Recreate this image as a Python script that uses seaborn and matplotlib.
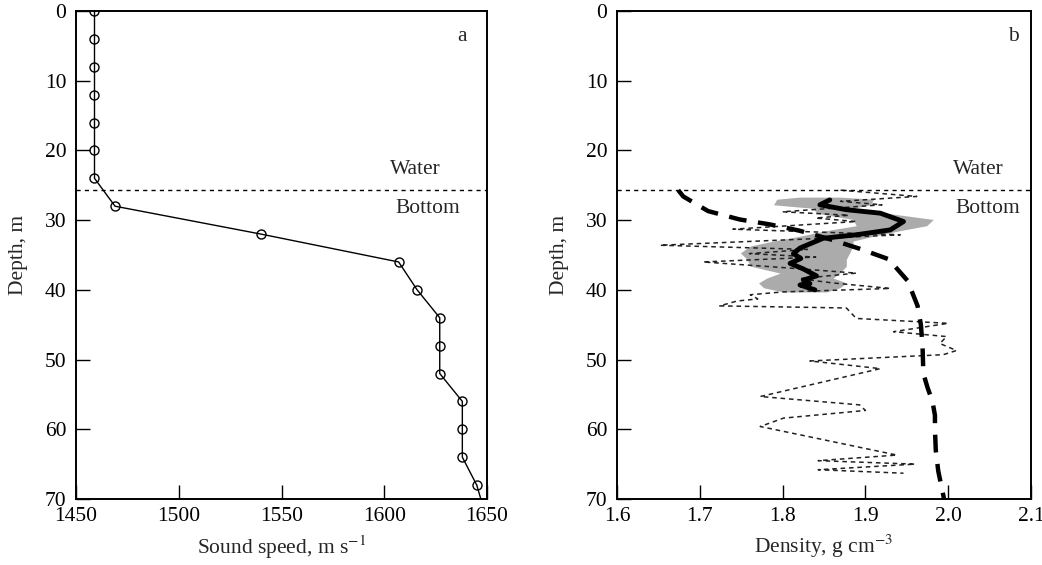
import numpy as np
import pandas as pd
import matplotlib
matplotlib.use("Agg")
import matplotlib.pyplot as plt
import seaborn as sns

# ---- Panel a: sound speed profile ----
speed_depth = [0, 4, 8, 12, 16, 20, 24, 28, 32, 36, 40, 44, 48, 52, 56, 60, 64, 68]
speed_vals = [1459, 1459, 1459, 1459, 1459, 1459, 1459, 1469, 1540, 1607, 1616, 1627,
              1627, 1627, 1638, 1638, 1638, 1645]
speed_tail_depth = [68, 70]
speed_tail_vals = [1645, 1647]

# ---- Panel b: density ----
meas_depth = [25.7, 26.6, 27.3, 27.8, 28.8, 29.3, 29.7, 30.2, 31.3, 32.1, 32.6, 33.6,
              34.2, 34.8, 35.3, 36.0, 36.8, 37.6, 38.4, 39.0, 39.8, 40.3, 40.7, 41.3,
              41.6, 42.3, 42.6, 44.1, 44.8, 46.0, 46.7, 47.7, 48.7, 49.3, 50.2, 51.3,
              55.3, 56.5, 57.3, 58.4, 59.6, 63.7, 64.5, 65.0, 65.8, 66.3]
meas_dens = [1.870, 1.962, 1.870, 1.920, 1.800, 1.880, 1.840, 1.889, 1.740, 1.942,
             1.850, 1.652, 1.830, 1.760, 1.840, 1.704, 1.800, 1.889, 1.820, 1.860,
             1.930, 1.800, 1.761, 1.770, 1.745, 1.724, 1.877, 1.889, 2.000, 1.934,
             1.998, 1.990, 2.010, 1.994, 1.833, 1.918, 1.773, 1.893, 1.900, 1.801,
             1.773, 1.938, 1.843, 1.960, 1.843, 1.946]

model_depth = [25.7, 26.6, 28.7, 29.9, 30.6, 31.5, 32.8, 34.1, 35.6, 38.7, 42.3, 45.0,
               48.0, 52.0, 54.0, 56.0, 58.0, 60.0, 63.0, 66.0, 70.0]
model_dens = [1.674, 1.680, 1.710, 1.748, 1.784, 1.820, 1.859, 1.893, 1.928, 1.951,
              1.963, 1.967, 1.969, 1.970, 1.975, 1.981, 1.984, 1.984, 1.985, 1.988, 1.995]

mean_depth = [27.1, 27.8, 28.5, 29.0, 30.2, 31.4, 32.1, 32.6, 34.0, 34.8, 35.5, 36.2,
              37.0, 38.0, 38.6, 39.1, 39.3, 40.0]
mean_dens = [1.857, 1.845, 1.877, 1.918, 1.946, 1.930, 1.889, 1.849, 1.821, 1.813,
             1.822, 1.809, 1.825, 1.841, 1.825, 1.833, 1.821, 1.839]

band_depth = [26.7, 27.0, 27.8, 28.3, 29.0, 29.9, 30.8, 31.5, 32.3, 33.0, 33.7, 34.7,
              35.6, 36.6, 37.6, 38.3, 39.0, 39.7, 40.3]
band_low = [1.82, 1.793, 1.789, 1.837, 1.841, 1.885, 1.889, 1.853, 1.821, 1.789, 1.761,
            1.749, 1.757, 1.761, 1.797, 1.781, 1.771, 1.777, 1.801]
band_high = [1.87, 1.910, 1.906, 1.885, 1.925, 1.982, 1.974, 1.942, 1.910, 1.885, 1.885,
             1.881, 1.877, 1.877, 1.869, 1.861, 1.877, 1.869, 1.853]

interface_depth = 25.7

sns.set_theme(style="ticks")
plt.rcParams["font.family"] = ["Liberation Serif", "DejaVu Serif"]
plt.rcParams["mathtext.fontset"] = "stix"

fig = plt.figure(figsize=(10.42, 5.65), dpi=100)
axa = fig.add_axes([76/1042, 1-499/565, (487-76)/1042, (499-11)/565])
axb = fig.add_axes([617/1042, 1-499/565, (1031-617)/1042, (499-11)/565])

fs = 15.5

# Panel a
sns.lineplot(x=speed_vals, y=speed_depth, sort=False, estimator=None, ax=axa,
             color="black", lw=1.0, marker="o", markersize=6.5,
             markerfacecolor="none", markeredgecolor="black", markeredgewidth=1.0)
sns.lineplot(x=speed_tail_vals, y=speed_tail_depth, sort=False, estimator=None, ax=axa,
             color="black", lw=1.0)
axa.set_xlim(1450, 1650)
axa.set_xticks([1450, 1500, 1550, 1600, 1650])
axa.set_xlabel("Sound speed, m s$^{-1}$", fontsize=fs, labelpad=5)
axa.text(1638, 3.6, "a", fontsize=fs, ha="center", va="center")
axa.text(1615, 22.7, "Water", fontsize=fs, ha="center", va="center")
axa.text(1621, 28.4, "Bottom", fontsize=fs, ha="center", va="center")

# Panel b
axb.fill_betweenx(band_depth, band_low, band_high, color="#ababab", lw=0, zorder=1)
sns.lineplot(x=meas_dens, y=meas_depth, sort=False, estimator=None, ax=axb,
             color="#222222", lw=1.1, dashes=False, zorder=2)
axb.lines[-1].set_dashes([3, 2.5])
sns.lineplot(x=model_dens, y=model_depth, sort=False, estimator=None, ax=axb,
             color="black", lw=3.2, zorder=3)
axb.lines[-1].set_dashes([4, 2.6])
sns.lineplot(x=mean_dens, y=mean_depth, sort=False, estimator=None, ax=axb,
             color="black", lw=3.5, zorder=4)
axb.set_xlim(1.6, 2.1)
axb.set_xticks([1.6, 1.7, 1.8, 1.9, 2.0, 2.1])
axb.set_xticklabels(["1.6", "1.7", "1.8", "1.9", "2.0", "2.1"])
axb.set_xlabel("Density, g cm$^{-3}$", fontsize=fs, labelpad=5)
axb.text(2.079, 3.6, "b", fontsize=fs, ha="center", va="center")
axb.text(2.036, 22.7, "Water", fontsize=fs, ha="center", va="center")
axb.text(2.048, 28.4, "Bottom", fontsize=fs, ha="center", va="center")

for ax in (axa, axb):
    ax.axhline(interface_depth, color="black", lw=1.0, ls=(0, (3, 3)), zorder=5)
    ax.set_ylim(70, 0)
    ax.set_yticks([0, 10, 20, 30, 40, 50, 60, 70])
    ax.set_ylabel("Depth, m", fontsize=fs, labelpad=12)
    ax.tick_params(direction="in", length=10, width=1.0, labelsize=fs,
                   top=False, right=False, colors="black")
    ax.tick_params(axis="x", pad=6)
    ax.tick_params(axis="y", pad=7)
    for s in ax.spines.values():
        s.set_visible(True)
        s.set_linewidth(1.4)
        s.set_color("black")
    ax.set_facecolor("white")

fig.savefig("out.png", dpi=100, facecolor="white")
